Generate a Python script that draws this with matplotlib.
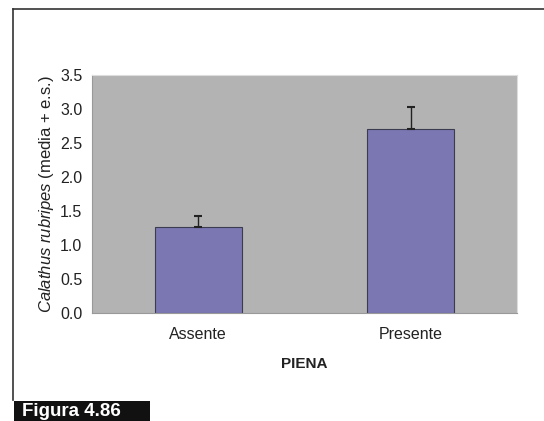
import matplotlib
matplotlib.use("Agg")
import matplotlib.pyplot as plt
from matplotlib.patches import Rectangle
from matplotlib.lines import Line2D

plt.rcParams["font.family"] = ["Liberation Sans", "DejaVu Sans"]
plt.rcParams["mathtext.fontset"] = "custom"
plt.rcParams["mathtext.it"] = "Liberation Sans:italic"
plt.rcParams["mathtext.rm"] = "Liberation Sans"

categories = ["Assente", "Presente"]
means = [1.26, 2.71]
errors = [0.16, 0.32]
yticks = [0.0, 0.5, 1.0, 1.5, 2.0, 2.5, 3.0, 3.5]

W, H = 544, 421
fig = plt.figure(figsize=(W/100, H/100), dpi=100)
fig.patch.set_facecolor("white")

ax = fig.add_axes([92/W, 1-313/H, (517-92)/W, (313-75)/H])
ax.set_facecolor("#b3b3b3")
x = range(len(categories))
ax.bar(x, means, width=0.41, color="#7a77b3", edgecolor="#3c3c50", linewidth=0.8,
       yerr=[[0, 0], errors], error_kw=dict(ecolor="#222222", elinewidth=1.0, capsize=3, capthick=1.5),
       zorder=2)
ax.set_xlim(-0.5, 1.5)
ax.set_ylim(0, 3.5)
ax.set_yticks(yticks)
ax.set_yticklabels([f"{v:.1f}" for v in yticks], fontsize=11.5, color="#222222")
ax.set_xticks(list(x))
ax.set_xticklabels(categories, fontsize=11.5, color="#222222")
ax.tick_params(axis="x", length=0, pad=10)
ax.tick_params(axis="y", length=0, pad=7)
for s in ["top", "right"]:
    ax.spines[s].set_color("#dddddd")
    ax.spines[s].set_linewidth(0.8)
for s in ["left", "bottom"]:
    ax.spines[s].set_color("#999999")
    ax.spines[s].set_linewidth(0.8)
ax.set_xlabel("PIENA", fontsize=11, fontweight="bold", color="#222222", labelpad=11)
ax.set_ylabel(r"$\it{Calathus\ rubripes}$ (media + e.s.)", fontsize=12, color="#222222", labelpad=3)

fig.add_artist(Line2D([13/W, 13/W], [1-9/H, 1-400/H], transform=fig.transFigure, color="#333333", lw=1.2))
fig.add_artist(Line2D([13/W, 1], [1-9/H, 1-9/H], transform=fig.transFigure, color="#333333", lw=1.2))

fig.add_artist(Rectangle((14/W, 0), (150-14)/W, 20/H, transform=fig.transFigure,
                         facecolor="#111111", edgecolor="none"))
fig.text(22/W, 9/H, "Figura 4.86", color="white", fontsize=13.5, fontweight="bold",
         va="center", ha="left")

fig.savefig("out.png", dpi=100, facecolor="white")
